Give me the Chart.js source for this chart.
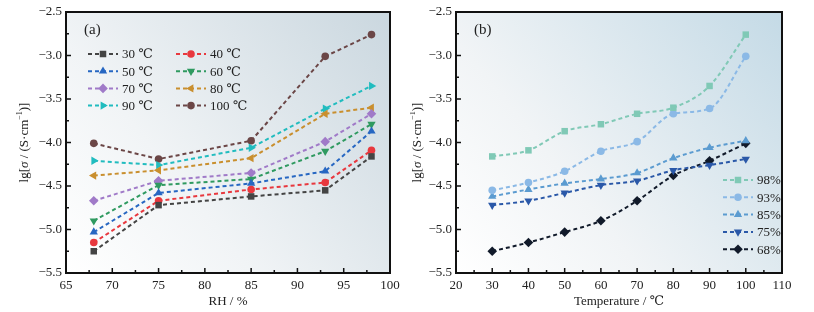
<!DOCTYPE html>
<html>
<head>
<meta charset="utf-8">
<script src="https://cdn.jsdelivr.net/npm/chart.js@4.4.1/dist/chart.umd.min.js"></script>
<style>
  body { margin: 0; background: #fff; }
  #wrap { position: relative; width: 814px; height: 312px; }
  canvas { position: absolute; top: 0; }
</style>
</head>
<body>
<div id="wrap">
  <canvas id="chartA" width="410" height="312" style="left:0"></canvas>
  <canvas id="chartB" width="404" height="312" style="left:410px"></canvas>
</div>
<script>
// humidité relative (%) et températures (℃)
const rh = [68, 75, 85, 93, 98];
const temps = [30, 40, 50, 60, 70, 80, 90, 100];

// lg sigma (a), une série par température
const t30  = [-5.25, -4.72, -4.62, -4.55, -4.16];
const t40  = [-5.15, -4.67, -4.54, -4.46, -4.09];
const t50  = [-5.03, -4.58, -4.47, -4.33, -3.87];
const t60  = [-4.90, -4.49, -4.42, -4.10, -3.79];
const t70  = [-4.67, -4.44, -4.35, -3.99, -3.67];
const t80  = [-4.38, -4.32, -4.18, -3.67, -3.60];
const t90  = [-4.21, -4.26, -4.06, -3.61, -3.35];
const t100 = [-4.01, -4.19, -3.98, -3.01, -2.76];
const tempSeries = [t30, t40, t50, t60, t70, t80, t90, t100];
const tempLabels = ['30 ℃', '40 ℃', '50 ℃', '60 ℃', '70 ℃', '80 ℃', '90 ℃', '100 ℃'];

// figure (b): mêmes mesures, une série par humidité
const rhLabels = ['98%', '93%', '85%', '75%', '68%'];
const rhIndex = [4, 3, 2, 1, 0];

const ticksA = { x: [65, 70, 75, 80, 85, 90, 95, 100], y: [-5.5, -5.0, -4.5, -4.0, -3.5, -3.0, -2.5] };
const ticksB = { x: [20, 30, 40, 50, 60, 70, 80, 90, 100, 110], y: [-5.5, -5.0, -4.5, -4.0, -3.5, -3.0, -2.5] };

const serif = '"Liberation Serif", "DejaVu Serif", serif';

const stylesA = [
  { c: '#444444', p: 'rect', r: 0 },
  { c: '#e8383e', p: 'circle', r: 0 },
  { c: '#2767c2', p: 'triangle', r: 0 },
  { c: '#2f9a60', p: 'triangle', r: 180 },
  { c: '#a07ac8', p: 'rectRot', r: 0 },
  { c: '#c98f2e', p: 'triangle', r: 270 },
  { c: '#21bcbf', p: 'triangle', r: 90 },
  { c: '#6b4646', p: 'circle', r: 0 }
];
const stylesB = [
  { c: '#80c9b6', p: 'rect', r: 0 },
  { c: '#8bb9e6', p: 'circle', r: 0 },
  { c: '#5b9bd0', p: 'triangle', r: 0 },
  { c: '#2a58a8', p: 'triangle', r: 180 },
  { c: '#111a2a', p: 'rectRot', r: 0 }
];

function markerSize(p) {
  if (p === 'circle') return 3.8;
  if (p === 'rect') return 4.6;
  return 4.8;
}

function mkDataset(label, xs, ys, st, curved) {
  return {
    label: label,
    data: xs.map((x, i) => ({ x: x, y: ys[i] })),
    showLine: true,
    borderColor: st.c,
    backgroundColor: st.c,
    borderWidth: 2,
    borderDash: [4, 3],
    pointStyle: st.p,
    rotation: st.r,
    pointRadius: markerSize(st.p),
    pointBorderWidth: 0,
    tension: curved ? 0.4 : 0,
    cubicInterpolationMode: curved ? 'monotone' : 'default'
  };
}

const dataA = tempSeries.map((s, i) => mkDataset(tempLabels[i], rh, s, stylesA[i], false));
const dataB = rhIndex.map((k, i) => mkDataset(rhLabels[i], temps, tempSeries.map(s => s[k]), stylesB[i], true));

function minus(v) { return v.toFixed(1).replace('-', '−'); }

function drawMarker(ctx, st, x, y) {
  Chart.helpers.drawPoint(ctx, { pointStyle: st.p, rotation: st.r, radius: markerSize(st.p), borderWidth: 0 }, x, y);
}

// fond, cadre, graduations, légende, titres
function decor(opts) {
  return {
    id: 'decor',
    beforeDatasetsDraw(chart) {
      const ctx = chart.ctx, a = chart.chartArea;
      const g = ctx.createLinearGradient(a.left, a.bottom, a.right, a.top);
      g.addColorStop(0, '#ffffff');
      g.addColorStop(0.35, '#f1f4f6');
      g.addColorStop(1, opts.bg);
      ctx.save();
      ctx.fillStyle = g;
      ctx.fillRect(a.left, a.top, a.right - a.left, a.bottom - a.top);
      ctx.restore();
    },
    afterDraw(chart) {
      const ctx = chart.ctx, a = chart.chartArea;
      const xs = chart.scales.x, ys = chart.scales.y;
      ctx.save();
      ctx.strokeStyle = '#111';
      ctx.lineWidth = 2;
      ctx.strokeRect(a.left, a.top, a.right - a.left, a.bottom - a.top);
      ctx.lineWidth = 1.5;
      ctx.beginPath();
      const xt = opts.ticks.x, yt = opts.ticks.y;
      for (let i = 0; i < xt.length; i++) {
        const px = xs.getPixelForValue(xt[i]);
        ctx.moveTo(px, a.bottom); ctx.lineTo(px, a.bottom - 5);
        if (i < xt.length - 1) {
          const pm = xs.getPixelForValue((xt[i] + xt[i + 1]) / 2);
          ctx.moveTo(pm, a.bottom); ctx.lineTo(pm, a.bottom - 3);
        }
      }
      for (let i = 0; i < yt.length; i++) {
        const py = ys.getPixelForValue(yt[i]);
        ctx.moveTo(a.left, py); ctx.lineTo(a.left + 5, py);
        if (i < yt.length - 1) {
          const pm = ys.getPixelForValue((yt[i] + yt[i + 1]) / 2);
          ctx.moveTo(a.left, pm); ctx.lineTo(a.left + 3, pm);
        }
      }
      ctx.stroke();

      // étiquette du panneau
      ctx.fillStyle = '#222';
      ctx.font = '15px ' + serif;
      ctx.textBaseline = 'middle';
      ctx.textAlign = 'left';
      ctx.fillText(opts.tag, opts.tagX, 30);

      // titre de l'axe y : lg[σ / (S·cm⁻¹)]
      ctx.translate(opts.titleX, (a.top + a.bottom) / 2);
      ctx.rotate(-Math.PI / 2);
      const parts = [
        ['lg[', '13px ' + serif, 0],
        ['σ', 'italic 13px ' + serif, 0],
        [' / (S·cm', '13px ' + serif, 0],
        ['−1', '8px ' + serif, -5],
        [')]', '13px ' + serif, 0]
      ];
      let w = 0;
      parts.forEach(p => { ctx.font = p[1]; w += ctx.measureText(p[0]).width; });
      let x0 = -w / 2;
      parts.forEach(p => {
        ctx.font = p[1];
        ctx.fillText(p[0], x0, p[2]);
        x0 += ctx.measureText(p[0]).width;
      });
      ctx.restore();

      // légende
      ctx.save();
      ctx.font = '13px ' + serif;
      ctx.textBaseline = 'middle';
      ctx.textAlign = 'left';
      opts.legend.forEach((L, i) => {
        const st = opts.styles[i];
        ctx.strokeStyle = st.c;
        ctx.fillStyle = st.c;
        ctx.lineWidth = 2;
        ctx.setLineDash([4, 3]);
        ctx.beginPath();
        ctx.moveTo(L.x, L.y); ctx.lineTo(L.x + 30, L.y);
        ctx.stroke();
        ctx.setLineDash([]);
        drawMarker(ctx, st, L.x + 15, L.y);
        ctx.fillStyle = '#222';
        ctx.fillText(opts.labels[i], L.x + 34, L.y + 1);
      });
      ctx.restore();
    }
  };
}

function axisOpts(min, max, step, size, isX) {
  return {
    type: 'linear',
    min: min, max: max,
    grid: { display: false, drawTicks: false },
    border: { display: false },
    ticks: {
      stepSize: step,
      color: '#222',
      font: { family: serif, size: 13 },
      padding: isX ? 5 : 4,
      callback: isX ? (v => v) : minus,
      maxRotation: 0,
      autoSkip: false
    },
    title: isX ? { display: true, text: '', font: { family: serif, size: 13 }, color: '#222', padding: { top: 0, bottom: 3 } } : { display: false },
    afterFit(s) { if (isX) s.height = size; else s.width = size; }
  };
}

function baseOptions(xmin, xmax, xstep, yw, padRight, xTitle) {
  const xo = axisOpts(xmin, xmax, xstep, 39, true);
  xo.title.text = xTitle;
  return {
    responsive: false,
    animation: false,
    layout: { padding: { top: 12, right: padRight, left: 0, bottom: 0 } },
    plugins: { legend: { display: false }, tooltip: { enabled: false } },
    scales: {
      x: xo,
      y: axisOpts(-5.5, -2.5, 0.5, yw, false)
    }
  };
}

const legA = [];
for (let i = 0; i < 8; i++) legA.push({ x: i % 2 === 0 ? 88 : 176, y: 54 + Math.floor(i / 2) * 17.2 });
const legB = [];
for (let i = 0; i < 5; i++) legB.push({ x: 313, y: 180 + i * 17.3 });

new Chart(document.getElementById('chartA').getContext('2d'), {
  type: 'scatter',
  data: { datasets: dataA },
  options: baseOptions(65, 100, 5, 66, 20, 'RH / %'),
  plugins: [decor({ bg: '#cad7df', ticks: ticksA, tag: '(a)', tagX: 84, titleX: 25, legend: legA, styles: stylesA, labels: tempLabels })]
});

new Chart(document.getElementById('chartB').getContext('2d'), {
  type: 'scatter',
  data: { datasets: dataB },
  options: baseOptions(20, 110, 10, 46, 32, 'Temperature / ℃'),
  plugins: [decor({ bg: '#c4dae6', ticks: ticksB, tag: '(b)', tagX: 64, titleX: 8, legend: legB, styles: stylesB, labels: rhLabels })]
});
</script>
</body>
</html>
